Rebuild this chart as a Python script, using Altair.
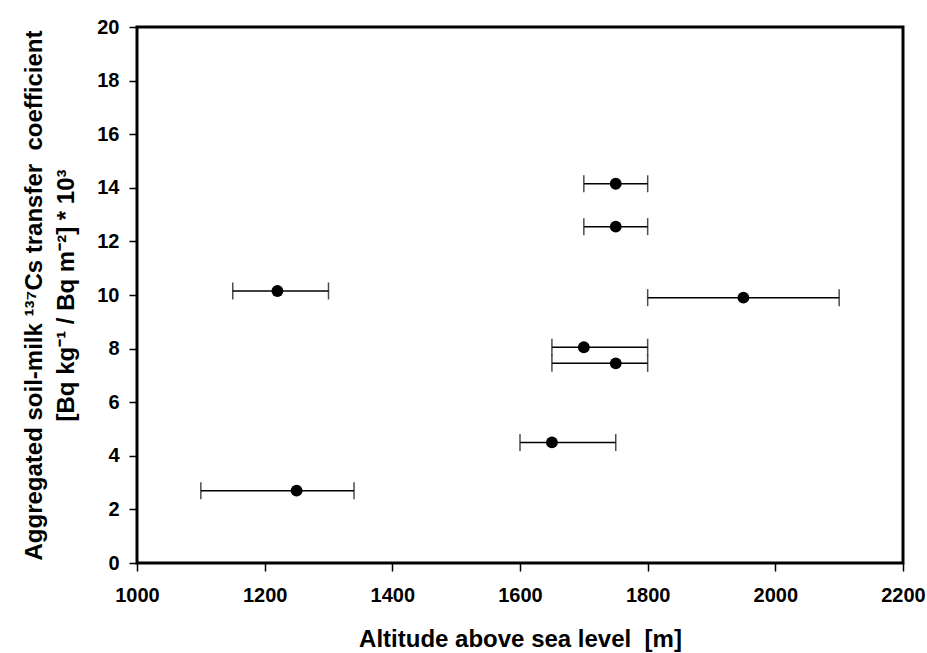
import altair as alt
import pandas as pd

altitude = [1750, 1750, 1220, 1950, 1700, 1750, 1650, 1250]
coef = [14.15, 12.55, 10.15, 9.9, 8.05, 7.45, 4.5, 2.7]
alt_lo = [1700, 1700, 1150, 1800, 1650, 1650, 1600, 1100]
alt_hi = [1800, 1800, 1300, 2100, 1800, 1800, 1750, 1340]

df = pd.DataFrame({"alt": altitude, "coef": coef, "lo": alt_lo, "hi": alt_hi})

font = "Liberation Sans"
xscale = alt.Scale(domain=[1000, 2200], nice=False, zero=False)
yscale = alt.Scale(domain=[0, 20], nice=False)

xaxis = alt.Axis(values=list(range(1000, 2201, 200)), format="d",
                 title="Altitude above sea level\u00a0\u00a0[m]")
yaxis = alt.Axis(values=list(range(0, 21, 2)), format="d",
                 title=["Aggregated soil-milk \u00b9\u00b3\u2077Cs transfer\u00a0\u00a0coefficient",
                        "[Bq kg\u207b\u00b9 / Bq m\u207b\u00b2] * 10\u00b3"])

base = alt.Chart(df)
bars = base.mark_rule(color="black", strokeWidth=1.5).encode(
    x=alt.X("lo:Q", scale=xscale, axis=xaxis), x2="hi:Q",
    y=alt.Y("coef:Q", scale=yscale, axis=yaxis))
cap_lo = base.mark_tick(color="black", orient="vertical", size=17, thickness=1.5).encode(
    x=alt.X("lo:Q", scale=xscale, axis=xaxis), y=alt.Y("coef:Q", scale=yscale, axis=yaxis))
cap_hi = base.mark_tick(color="black", orient="vertical", size=17, thickness=1.5).encode(
    x=alt.X("hi:Q", scale=xscale, axis=xaxis), y=alt.Y("coef:Q", scale=yscale, axis=yaxis))
pts = base.mark_point(filled=True, color="black", opacity=1, size=140, shape="circle").encode(
    x=alt.X("alt:Q", scale=xscale, axis=xaxis), y=alt.Y("coef:Q", scale=yscale, axis=yaxis))

chart = alt.layer(bars, cap_lo, cap_hi, pts).properties(
    width=766, height=536,
    background="white",
    autosize=alt.AutoSizeParams(type="none"),
    padding={"left": 137, "top": 27, "right": 24, "bottom": 90},
).configure_view(
    stroke="black", strokeWidth=3
).configure_axis(
    grid=False, domain=False, tickColor="black", tickSize=8, tickWidth=1.5,
    labelFont=font, labelFontSize=20, labelFontWeight="bold", labelColor="black",
    titleFont=font, titleFontSize=24, titleFontWeight="bold",
    titleColor="black", labelFlush=False
).configure_axisX(
    labelPadding=14, titlePadding=22
).configure_axisY(
    labelPadding=10, titlePadding=18, titleLineHeight=32
)

chart.save("out.html", embed_options={"renderer": "svg", "actions": False})
